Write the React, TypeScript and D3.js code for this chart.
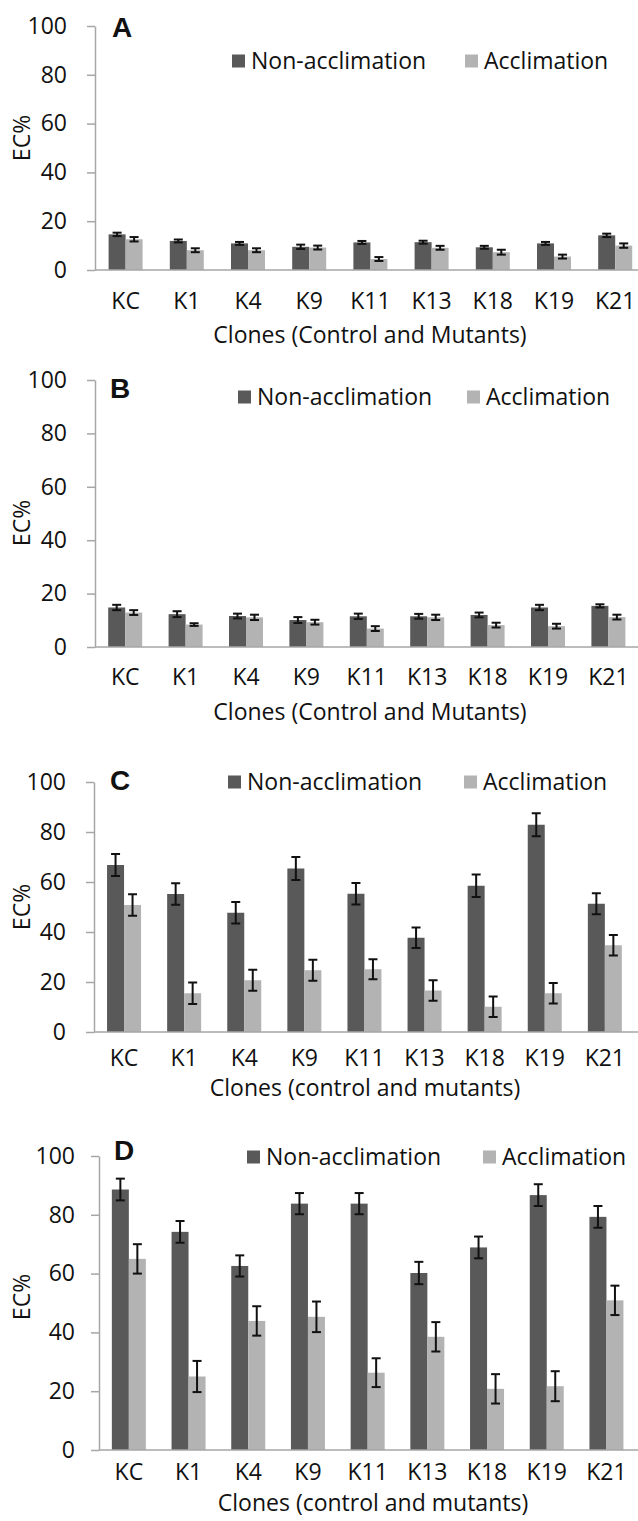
import React, { useEffect, useRef } from "react";
import * as d3 from "d3";

const clones = ["KC", "K1", "K4", "K9", "K11", "K13", "K18", "K19", "K21"];
const yTicks = [0, 20, 40, 60, 80, 100];
const seriesNames = ["Non-acclimation", "Acclimation"];

// panel A
const nonAcclA = [14.6, 11.9, 10.9, 9.5, 11.3, 11.4, 9.3, 10.9, 14.2];
const acclA = [12.6, 8.1, 8.1, 9.2, 4.5, 9.1, 7.3, 5.5, 10.0];
const errNonA = [0.7, 0.6, 0.6, 0.9, 0.6, 0.6, 0.6, 0.6, 0.7];
const errAccA = [0.9, 0.8, 0.8, 0.8, 0.8, 0.8, 1.0, 0.8, 0.9];

// panel B
const nonAcclB = [14.8, 12.3, 11.6, 10.1, 11.5, 11.5, 12.0, 14.8, 15.4];
const acclB = [12.9, 8.4, 11.1, 9.3, 6.9, 11.1, 8.2, 7.8, 11.2];
const errNonB = [1.0, 1.1, 0.9, 1.1, 1.0, 0.9, 0.9, 1.0, 0.6];
const errAccB = [0.9, 0.5, 1.0, 0.9, 0.9, 1.0, 0.9, 0.9, 0.9];

// panel C
const nonAcclC = [66.8, 55.2, 47.7, 65.4, 55.3, 37.7, 58.5, 82.9, 51.3];
const acclC = [50.8, 15.5, 20.7, 24.7, 25.1, 16.6, 10.1, 15.5, 34.7];
const errNonC = [4.4, 4.3, 4.3, 4.6, 4.3, 4.1, 4.5, 4.6, 4.2];
const errAccC = [4.3, 4.3, 4.2, 4.2, 4.0, 4.1, 4.1, 4.1, 4.1];

// panel D
const nonAcclD = [88.6, 74.2, 62.6, 83.8, 83.8, 60.2, 68.9, 86.7, 79.3];
const acclD = [65.0, 25.0, 43.9, 45.3, 26.3, 38.5, 20.8, 21.7, 50.9];
const errNonD = [3.7, 3.7, 3.6, 3.6, 3.6, 3.8, 3.7, 3.7, 3.7];
const errAccD = [5.0, 5.3, 5.0, 5.2, 4.9, 5.0, 5.0, 5.1, 5.0];

const panels = [
  {
    letter: "A", non: nonAcclA, acc: acclA, errNon: errNonA, errAcc: errAccA,
    top: 26, bottom: 270, axisX: 95, band: 61.2, pad: 20,
    legendY: 61, leg1: 232, leg2: 465, letterX: 112, letterY: 37,
    catY: 309, xTitleY: 343, xTitleX: 370, ecY: 138,
    xTitle: "Clones (Control and Mutants)",
  },
  {
    letter: "B", non: nonAcclB, acc: acclB, errNon: errNonB, errAcc: errAccB,
    top: 380, bottom: 647, axisX: 95, band: 60.4, pad: 20,
    legendY: 397, leg1: 238, leg2: 467, letterX: 110, letterY: 398,
    catY: 685, xTitleY: 720, xTitleX: 370, ecY: 523,
    xTitle: "Clones (Control and Mutants)",
  },
  {
    letter: "C", non: nonAcclC, acc: acclC, errNon: errNonC, errAcc: errAccC,
    top: 782, bottom: 1032, axisX: 94, band: 60.1, pad: 20,
    legendY: 782, leg1: 228, leg2: 464, letterX: 110, letterY: 790,
    catY: 1066, xTitleY: 1096, xTitleX: 365, ecY: 907,
    xTitle: "Clones (control and mutants)",
  },
  {
    letter: "D", non: nonAcclD, acc: acclD, errNon: errNonD, errAcc: errAccD,
    top: 1156, bottom: 1450, axisX: 99, band: 59.7, pad: 16,
    legendY: 1157, leg1: 247, leg2: 483, letterX: 114, letterY: 1160,
    catY: 1480, xTitleY: 1511, xTitleX: 373, ecY: 1297,
    xTitle: "Clones (control and mutants)",
  },
];

const W = 638;
const H = 1521;
const DARK = "#595959";
const LIGHT = "#b3b3b3";
const AXIS = "#a6a6a6";
const FONT = "'Open Sans', sans-serif";
const FS = 23;

export default function App() {
  const ref = useRef<SVGSVGElement>(null);

  useEffect(() => {
    const svg = d3.select(ref.current);
    svg.selectAll("*").remove();
    svg.append("rect").attr("width", W).attr("height", H).attr("fill", "#fff");

    panels.forEach((p) => {
      const g = svg.append("g");
      const y = d3.scaleLinear().domain([0, 100]).range([p.bottom, p.top]);
      const x = d3.scaleBand()
        .domain(clones)
        .range([p.axisX, p.axisX + p.band * clones.length])
        .padding(0);
      const barW = 17;
      const xs = d3.scaleBand()
        .domain(seriesNames)
        .range([x.bandwidth() / 2 - barW, x.bandwidth() / 2 + barW])
        .padding(0);

      // y axis
      const yAxis = g.append("g")
        .attr("transform", `translate(${p.axisX},0)`)
        .call(d3.axisLeft(y).tickValues(yTicks).tickSize(8).tickSizeOuter(0).tickPadding(p.pad));
      yAxis.select(".domain").attr("stroke", AXIS).attr("stroke-width", 1.5);
      yAxis.selectAll(".tick line").attr("stroke", AXIS).attr("stroke-width", 1.5);
      yAxis.selectAll(".tick text")
        .attr("font-family", FONT).attr("font-size", FS).attr("fill", "#111");

      // bars
      const rows = clones.map((c, i) => ({
        c,
        vals: [
          { s: seriesNames[0], v: p.non[i], e: p.errNon[i] },
          { s: seriesNames[1], v: p.acc[i], e: p.errAcc[i] },
        ],
      }));
      const grp = g.selectAll(".grp").data(rows).enter().append("g")
        .attr("transform", (d) => `translate(${x(d.c)},0)`);
      grp.selectAll("rect").data((d) => d.vals).enter().append("rect")
        .attr("x", (d) => xs(d.s)!)
        .attr("y", (d) => y(d.v))
        .attr("width", xs.bandwidth())
        .attr("height", (d) => y(0) - y(d.v))
        .attr("fill", (d, i) => (i === 0 ? DARK : LIGHT));

      // error bars
      const eb = grp.selectAll(".eb").data((d) => d.vals).enter().append("g")
        .attr("stroke", "#111").attr("stroke-width", 2);
      const cx = (d: any) => xs(d.s)! + xs.bandwidth() / 2;
      eb.append("line")
        .attr("x1", cx).attr("x2", cx)
        .attr("y1", (d) => y(d.v + d.e)).attr("y2", (d) => y(d.v - d.e));
      [1, -1].forEach((sgn) => {
        eb.append("line")
          .attr("x1", (d) => cx(d) - 4.5).attr("x2", (d) => cx(d) + 4.5)
          .attr("y1", (d) => y(d.v + sgn * d.e)).attr("y2", (d) => y(d.v + sgn * d.e));
      });

      // x axis line
      g.append("line")
        .attr("x1", p.axisX).attr("x2", W)
        .attr("y1", y(0)).attr("y2", y(0))
        .attr("stroke", AXIS).attr("stroke-width", 1.5);

      // category labels
      g.selectAll(".cat").data(clones).enter().append("text")
        .attr("x", (d) => x(d)! + x.bandwidth() / 2)
        .attr("y", p.catY)
        .attr("text-anchor", "middle")
        .attr("font-family", FONT).attr("font-size", FS).attr("fill", "#111")
        .text((d) => d);

      // axis titles
      g.append("text")
        .attr("x", p.xTitleX).attr("y", p.xTitleY)
        .attr("text-anchor", "middle")
        .attr("font-family", FONT).attr("font-size", FS).attr("fill", "#111")
        .text(p.xTitle);
      g.append("text")
        .attr("transform", `translate(30,${p.ecY}) rotate(-90)`)
        .attr("text-anchor", "middle")
        .attr("font-family", FONT).attr("font-size", FS).attr("fill", "#111")
        .text("EC%");

      // panel letter
      g.append("text")
        .attr("x", p.letterX).attr("y", p.letterY)
        .attr("font-family", "'Liberation Sans', Arial, sans-serif")
        .attr("font-weight", "bold").attr("font-size", 28).attr("fill", "#111")
        .text(p.letter);

      // legend
      [p.leg1, p.leg2].forEach((lx, i) => {
        g.append("rect")
          .attr("x", lx).attr("y", p.legendY - 6.5)
          .attr("width", 13).attr("height", 13)
          .attr("fill", i === 0 ? DARK : LIGHT);
        g.append("text")
          .attr("x", lx + 19).attr("y", p.legendY + 8)
          .attr("font-family", FONT).attr("font-size", FS).attr("fill", "#111")
          .text(seriesNames[i]);
      });
    });
  }, []);

  return (
    <svg
      ref={ref}
      width={W}
      height={H}
      style={{ position: "absolute", left: 0, top: 0, display: "block" }}
    />
  );
}
